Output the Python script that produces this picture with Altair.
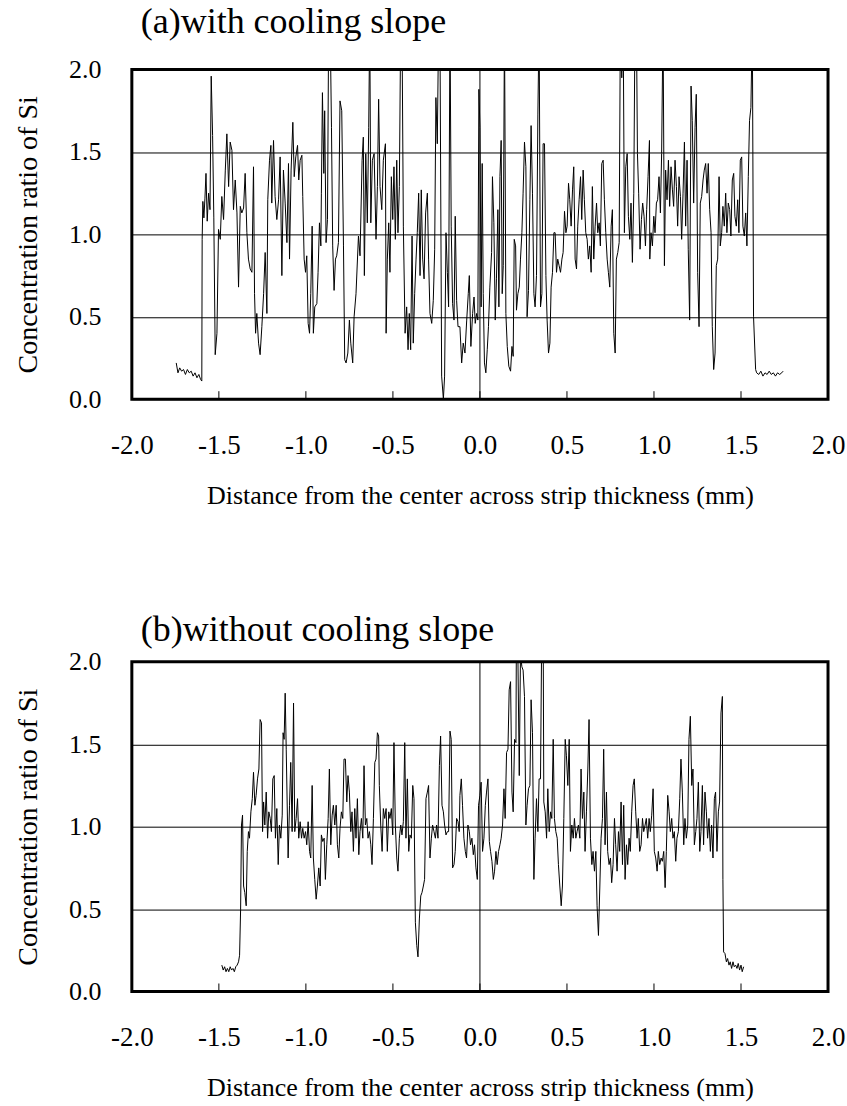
import altair as alt
import pandas as pd

# ---------------- Panel (a): with cooling slope ----------------
A_X = [
    -1.745, -1.735, -1.725, -1.714, -1.703, -1.692, -1.681, -1.670, -1.659, -1.648, -1.637, -1.626, -1.615, -1.605, -1.598,
    -1.596, -1.592, -1.586, -1.580, -1.574, -1.567, -1.559, -1.551, -1.544, -1.536, -1.529, -1.521, -1.511, -1.502, -1.492,
    -1.483, -1.473, -1.463, -1.454, -1.444, -1.435, -1.425, -1.416, -1.406, -1.396, -1.387, -1.377, -1.368, -1.358, -1.349,
    -1.339, -1.330, -1.320, -1.310, -1.301, -1.295, -1.289, -1.282, -1.272, -1.263, -1.253, -1.243, -1.234, -1.224, -1.219,
    -1.209, -1.201, -1.196, -1.186, -1.177, -1.167, -1.157, -1.148, -1.138, -1.129, -1.119, -1.109, -1.100, -1.094,
    -1.085, -1.075, -1.067, -1.058, -1.048, -1.041, -1.033, -1.023, -1.018, -1.010, -1.002, -0.995, -0.987, -0.979, -0.972,
    -0.964, -0.957, -0.949, -0.937, -0.930, -0.922, -0.914, -0.911, -0.905, -0.897, -0.892, -0.884, -0.876, -0.869, -0.861,
    -0.853, -0.846, -0.838, -0.830, -0.823, -0.813, -0.804, -0.794, -0.784, -0.777, -0.769, -0.759, -0.750, -0.742, -0.731,
    -0.723, -0.712, -0.698, -0.689, -0.677, -0.670, -0.664, -0.656, -0.647, -0.639, -0.633, -0.627, -0.618, -0.608, -0.597,
    -0.589, -0.582, -0.574, -0.564, -0.555, -0.543, -0.539, -0.532, -0.524, -0.517, -0.509, -0.501, -0.494, -0.486, -0.478,
    -0.471, -0.463, -0.455, -0.448, -0.440, -0.430, -0.421, -0.413, -0.406, -0.398, -0.390, -0.383, -0.375, -0.367, -0.360,
    -0.352, -0.344, -0.337, -0.329, -0.321, -0.312, -0.302, -0.295, -0.287, -0.277, -0.268, -0.260, -0.253, -0.245, -0.237,
    -0.230, -0.220, -0.210, -0.203, -0.195, -0.187, -0.180, -0.172, -0.165, -0.157, -0.149, -0.142, -0.134, -0.126,
    -0.115, -0.105, -0.096, -0.086, -0.076, -0.067, -0.061, -0.052, -0.042, -0.034, -0.027, -0.019, -0.012, -0.006, 0.000,
    0.007, 0.013, 0.019, 0.026, 0.034, 0.042, 0.049, 0.057, 0.067, 0.072, 0.080, 0.088, 0.095, 0.103, 0.109,
    0.115, 0.122, 0.128, 0.134, 0.141, 0.149, 0.157, 0.166, 0.176, 0.184, 0.191, 0.197, 0.205, 0.210, 0.218,
    0.226, 0.233, 0.241, 0.248, 0.256, 0.264, 0.271, 0.279, 0.287, 0.294, 0.302, 0.310, 0.317, 0.325, 0.333,
    0.340, 0.348, 0.356, 0.363, 0.371, 0.379, 0.386, 0.394, 0.402, 0.409, 0.417, 0.425, 0.432, 0.440, 0.447,
    0.455, 0.463, 0.471, 0.478, 0.486, 0.494, 0.501, 0.509, 0.516, 0.524, 0.532, 0.539, 0.547, 0.555, 0.562,
    0.570, 0.578, 0.585, 0.593, 0.600, 0.608, 0.616, 0.623, 0.631, 0.639, 0.646, 0.654, 0.662, 0.670, 0.677,
    0.685, 0.692, 0.700, 0.708, 0.715, 0.723, 0.731, 0.738, 0.746, 0.754, 0.761, 0.769, 0.777, 0.784, 0.792,
    0.800, 0.807, 0.815, 0.823, 0.830, 0.838, 0.846, 0.853, 0.861, 0.868, 0.876, 0.884, 0.891, 0.899, 0.905,
    0.912, 0.920, 0.928, 0.935, 0.943, 0.951, 0.958, 0.966, 0.974,
    0.976, 0.983, 0.991, 0.999, 1.006, 1.014, 1.021, 1.029, 1.037, 1.044, 1.052, 1.060, 1.067, 1.075, 1.083,
    1.090, 1.098, 1.106, 1.113, 1.121, 1.129, 1.136, 1.144, 1.152, 1.159, 1.167, 1.175, 1.182, 1.190, 1.197,
    1.205, 1.213, 1.220, 1.228, 1.236, 1.243, 1.251, 1.259, 1.266, 1.274, 1.282, 1.289, 1.297, 1.305, 1.312,
    1.320, 1.328, 1.335, 1.343, 1.351, 1.358, 1.366, 1.374, 1.381, 1.389, 1.396, 1.404, 1.412, 1.419, 1.427,
    1.435, 1.442, 1.450, 1.458, 1.465, 1.473, 1.481, 1.488, 1.496, 1.504, 1.511, 1.519, 1.527, 1.534, 1.542,
    1.549, 1.557, 1.565, 1.572, 1.584,
    1.590, 1.602, 1.614, 1.626, 1.638, 1.650, 1.662, 1.674, 1.686, 1.698, 1.710, 1.722, 1.734, 1.742,
]
A_Y = [
    0.22, 0.16, 0.19, 0.17, 0.18, 0.15, 0.18, 0.16, 0.17, 0.14, 0.16, 0.13, 0.15, 0.12, 0.11,
    0.97, 1.20, 1.10, 1.22, 1.37, 1.08, 1.25, 1.15, 1.96, 1.60, 1.10, 0.27, 0.40, 1.03, 0.97,
    1.23, 1.09, 1.39, 1.61, 1.29, 1.56, 1.51, 1.15, 1.33, 1.13, 0.68, 1.17, 1.13, 1.16, 1.37,
    1.01, 0.85, 0.79, 0.77, 1.41, 0.64, 0.40, 0.52, 0.34, 0.27, 0.44, 0.64, 0.89, 0.52, 1.21,
    1.45, 1.54, 1.19, 1.57, 1.23, 1.09, 1.21, 1.47, 0.75, 1.39, 1.19, 0.95, 1.43, 0.85,
    1.39, 1.68, 1.35, 1.47, 1.54, 1.33, 1.45, 1.48, 1.23, 0.85, 0.77, 0.87, 0.46, 0.40, 0.64,
    1.05, 0.40, 0.56, 0.58, 0.77, 1.07, 0.93, 1.25, 1.86, 1.37, 1.75, 0.95, 1.09, 2.30, 2.30,
    1.65, 0.93, 0.66, 0.85, 0.87, 0.95, 1.81, 1.75, 0.93, 0.24, 0.22, 0.28, 0.48, 0.34, 0.22,
    0.50, 0.64, 0.99, 0.87, 1.45, 1.59, 0.75, 1.49, 1.07, 1.65, 2.30, 1.07, 1.45, 1.49, 0.97,
    1.29, 1.82, 1.29, 1.15, 1.45, 1.55, 0.40, 0.85, 1.07, 0.77, 1.35, 1.09, 1.41, 0.97, 1.45,
    1.01, 1.29, 2.30, 2.30, 1.05, 0.40, 0.56, 0.30, 0.52, 0.30, 0.99, 0.34, 0.64, 0.85, 1.01,
    1.25, 0.75, 1.27, 0.85, 0.73, 1.13, 1.25, 0.85, 0.52, 0.46, 0.60, 0.91, 1.83, 1.55, 2.30,
    2.30, 0.14, 0.00, 0.14, 1.01, 0.77, 0.56, 2.30, 1.05, 0.58, 0.48, 1.11, 0.60, 0.44,
    0.44, 0.22, 0.34, 0.28, 0.48, 0.64, 0.75, 0.32, 0.52, 0.62, 0.46, 0.52, 0.48, 1.88, 1.65,
    0.56, 1.43, 0.64, 0.22, 0.16, 0.30, 0.44, 0.68, 0.89, 1.35, 1.07, 0.48, 0.73, 1.15, 0.56,
    1.35, 1.57, 0.64, 0.81, 2.30, 0.52, 0.32, 0.20, 0.17, 0.32, 0.26, 0.97, 0.93, 0.54, 0.64,
    0.68, 0.85, 1.01, 1.25, 1.56, 1.41, 0.50, 0.66, 1.21, 1.66, 1.25, 0.64, 0.56, 0.75, 1.73,
    2.30, 0.56, 0.64, 1.55, 1.55, 0.75, 0.48, 0.28, 0.34, 0.68, 0.77, 1.01, 1.01, 0.77, 0.85,
    0.81, 0.77, 0.85, 0.89, 1.14, 1.01, 1.05, 1.31, 1.21, 1.05, 1.27, 1.41, 0.85, 0.79, 1.05,
    1.21, 1.35, 1.09, 1.39, 1.21, 1.01, 0.97, 0.85, 0.93, 0.77, 1.29, 0.85, 1.05, 1.19, 1.01,
    1.07, 0.93, 1.43, 1.45, 1.21, 1.01, 0.85, 0.77, 0.68, 1.05, 1.15, 0.40, 0.28, 0.85, 0.89,
    0.95, 2.30, 1.95, 2.30, 1.01, 1.41, 1.49, 1.11, 0.97, 1.19, 0.83, 1.25, 2.30, 2.30, 1.49,
    1.25, 0.91, 1.09, 1.19, 1.11, 0.93, 1.15, 1.35, 1.57,
    0.85, 1.01, 0.93, 1.11, 1.01, 1.19, 1.21, 1.35, 1.13, 1.49, 2.30, 0.81, 1.39, 1.21, 1.45,
    1.17, 1.41, 1.27, 1.17, 1.45, 1.29, 1.05, 1.35, 1.23, 0.97, 1.25, 1.56, 1.05, 1.45, 0.91,
    0.48, 1.90, 1.69, 1.19, 1.65, 1.85, 0.77, 0.44, 1.19, 1.23, 1.33, 1.39, 1.43, 1.25, 1.43,
    1.15, 1.01, 0.44, 0.18, 0.28, 0.81, 0.85, 1.35, 0.93, 1.01, 1.17, 1.05, 1.25, 1.01, 1.19,
    1.15, 0.99, 1.33, 1.37, 1.11, 1.05, 1.21, 1.01, 1.45, 1.47, 1.05, 0.99, 1.13, 0.93, 1.35,
    1.69, 1.77, 2.30, 0.50, 0.18,
    0.16, 0.15, 0.17, 0.14, 0.16, 0.15, 0.17, 0.15, 0.16, 0.14, 0.16, 0.15, 0.16, 0.17,
]

# ---------------- Panel (b): without cooling slope ----------------
B_X = [
    -1.483, -1.475, -1.467, -1.459, -1.451, -1.443, -1.435, -1.427, -1.419, -1.411, -1.403, -1.395, -1.387, -1.381,
    -1.375, -1.370, -1.364, -1.358, -1.351, -1.343, -1.337, -1.330, -1.324, -1.316, -1.308, -1.301, -1.293, -1.286, -1.278,
    -1.270, -1.263, -1.255, -1.249, -1.243, -1.236, -1.228, -1.220, -1.213, -1.205, -1.198, -1.190, -1.182, -1.175, -1.167,
    -1.159, -1.152, -1.144, -1.136, -1.131, -1.125, -1.119, -1.113,
    -1.102, -1.094, -1.087, -1.079, -1.071, -1.064, -1.056, -1.048, -1.041, -1.033, -1.025, -1.018, -1.010, -1.002, -0.995,
    -0.987, -0.979, -0.972, -0.964, -0.957, -0.949, -0.941, -0.934, -0.926, -0.918, -0.911, -0.903, -0.895, -0.888, -0.880,
    -0.872, -0.865, -0.857, -0.849, -0.842, -0.834, -0.826, -0.819, -0.811, -0.804, -0.796, -0.788, -0.781, -0.773, -0.765,
    -0.758, -0.750, -0.742, -0.735, -0.727, -0.719, -0.712, -0.704, -0.696, -0.689, -0.681, -0.673, -0.666, -0.658, -0.650,
    -0.643, -0.635, -0.627, -0.620, -0.612, -0.604, -0.597, -0.589, -0.582, -0.578, -0.570, -0.562, -0.555, -0.547, -0.539,
    -0.532, -0.524, -0.517, -0.509, -0.501, -0.494, -0.486, -0.478, -0.471, -0.463, -0.455, -0.448, -0.440, -0.432, -0.425,
    -0.417, -0.409, -0.402, -0.394, -0.386, -0.379, -0.371, -0.363, -0.356, -0.348, -0.340, -0.333, -0.325, -0.318, -0.310,
    -0.302, -0.295, -0.287, -0.279, -0.272, -0.264, -0.256, -0.249, -0.241, -0.233, -0.226, -0.218, -0.210, -0.203, -0.195,
    -0.187, -0.180, -0.172, -0.165, -0.157, -0.149, -0.142, -0.134, -0.126, -0.119,
    -0.115, -0.107, -0.100, -0.092, -0.084, -0.077, -0.069, -0.061, -0.054, -0.046, -0.038, -0.031, -0.023, -0.015, -0.008,
    0.000, 0.007, 0.015, 0.023, 0.031, 0.038, 0.046, 0.054, 0.061, 0.069, 0.077, 0.084, 0.092, 0.099, 0.107,
    0.115, 0.122, 0.130, 0.138, 0.145, 0.153, 0.161, 0.168, 0.176, 0.184, 0.191, 0.199, 0.207, 0.210, 0.218,
    0.226, 0.233, 0.241, 0.248, 0.256, 0.264, 0.271, 0.279, 0.287, 0.294, 0.302, 0.310, 0.317, 0.325, 0.333,
    0.340, 0.348, 0.356, 0.363, 0.367, 0.375, 0.383, 0.390, 0.398, 0.406, 0.413, 0.421, 0.428, 0.436, 0.444,
    0.451, 0.459, 0.467, 0.474, 0.482, 0.490, 0.497, 0.505, 0.513, 0.520, 0.528, 0.536, 0.543, 0.551, 0.558,
    0.566, 0.574, 0.581, 0.589, 0.597, 0.604, 0.612, 0.620, 0.627, 0.635, 0.643, 0.650, 0.658, 0.666, 0.673,
    0.681, 0.689, 0.696, 0.704, 0.711, 0.719, 0.727, 0.734, 0.742, 0.750, 0.757, 0.765, 0.773, 0.780, 0.788,
    0.796, 0.803, 0.811, 0.819, 0.826, 0.834, 0.842, 0.849, 0.857, 0.864, 0.872, 0.880, 0.887, 0.895, 0.903,
    0.910, 0.918,
    0.926, 0.934, 0.941, 0.949, 0.956, 0.964, 0.972, 0.979, 0.987, 0.995, 1.002, 1.010, 1.018, 1.025, 1.033,
    1.041, 1.048, 1.056, 1.064, 1.071, 1.079, 1.087, 1.094, 1.102, 1.109, 1.117, 1.125, 1.132, 1.140, 1.148,
    1.155, 1.163, 1.171, 1.178, 1.186, 1.194, 1.201, 1.209, 1.217, 1.224, 1.232, 1.240, 1.247, 1.255, 1.263,
    1.270, 1.278, 1.285, 1.293, 1.301, 1.308, 1.316, 1.324, 1.331, 1.339, 1.347, 1.354, 1.362, 1.370, 1.377,
    1.385, 1.393, 1.396, 1.400,
    1.408, 1.416, 1.423, 1.431, 1.438, 1.446, 1.454, 1.461, 1.469, 1.477, 1.484, 1.492, 1.500, 1.507, 1.515,
]
B_Y = [
    0.16, 0.13, 0.15, 0.12, 0.14, 0.12, 0.15, 0.13, 0.14, 0.12, 0.15, 0.16, 0.18, 0.22,
    0.50, 1.01, 1.07, 0.64, 0.60, 0.52, 0.85, 0.97, 0.93, 1.09, 1.17, 1.33, 1.13, 1.19, 1.29,
    1.35, 1.65, 1.63, 0.97, 1.15, 1.01, 1.21, 0.93, 1.09, 1.05, 0.97, 1.29, 1.31, 0.93, 1.11,
    0.77, 1.01, 0.93, 1.07, 1.57, 1.53, 1.81, 1.47,
    0.81, 1.13, 1.39, 0.97, 1.75, 0.97, 1.05, 1.17, 0.93, 1.03, 0.93, 0.99, 0.93, 0.97, 0.89,
    1.03, 0.85, 0.81, 1.25, 0.81, 0.68, 0.56, 0.64, 0.75, 0.64, 0.95, 0.91, 0.93, 0.68, 0.89,
    1.05, 1.35, 0.89, 1.07, 1.13, 1.01, 1.13, 0.89, 0.81, 0.99, 1.09, 1.05, 1.41, 1.41, 1.15,
    1.31, 1.21, 0.97, 1.09, 0.85, 1.11, 0.93, 1.17, 0.83, 0.97, 1.05, 0.93, 1.37, 1.01, 1.05,
    0.93, 0.97, 0.89, 0.77, 1.05, 1.39, 1.41, 1.57, 1.55, 1.25, 1.01, 0.85, 1.11, 1.05, 1.11,
    0.85, 1.09, 1.05, 1.11, 0.95, 1.51, 1.01, 0.81, 0.73, 0.93, 1.01, 0.95, 1.03, 1.51, 0.93,
    1.29, 0.85, 0.95, 0.93, 1.25, 1.17, 0.42, 0.28, 0.21, 0.44, 0.58, 0.60, 0.64, 0.68, 1.17,
    1.21, 1.25, 0.81, 0.93, 1.01, 0.97, 0.93, 1.01, 0.93, 1.37, 1.55, 1.13, 1.09, 1.01, 0.95,
    0.97, 0.97, 1.58, 1.53, 0.75, 0.77, 0.85, 1.05, 1.03, 0.97,
    1.19, 1.29, 1.13, 0.93, 0.85, 0.81, 1.01, 0.97, 0.89, 0.93, 0.83, 0.89, 0.75, 0.68, 1.13,
    1.19, 1.27, 0.85, 0.93, 1.13, 1.21, 1.29, 0.91, 0.85, 0.79, 0.68, 0.73, 0.85, 0.77, 0.85,
    0.89, 0.93, 1.01, 1.23, 1.05, 1.45, 1.47, 1.83, 1.88, 1.21, 1.09, 1.53, 1.51, 2.30, 2.05,
    1.31, 2.05, 1.97, 1.95, 1.79, 1.01, 1.13, 1.23, 1.25, 1.77, 1.57, 0.68, 0.93, 1.17, 0.97,
    1.29, 1.29, 2.30, 2.30, 1.15, 1.09, 0.93, 1.23, 0.97, 1.09, 1.05, 1.53, 1.05, 0.97, 0.93,
    0.77, 0.64, 0.52, 0.64, 1.05, 1.53, 1.43, 1.25, 1.53, 0.85, 1.01, 0.93, 1.05, 0.93, 0.97,
    1.01, 0.93, 1.35, 1.05, 1.21, 0.85, 1.09, 1.35, 1.65, 0.93, 0.77, 0.85, 0.73, 0.85, 0.52,
    0.34, 0.64, 0.93, 1.05, 1.47, 0.89, 1.21, 0.85, 0.77, 0.81, 0.66, 0.77, 1.05, 0.89, 0.73,
    0.97, 0.85, 1.15, 0.77, 1.13, 0.68, 0.89, 0.77, 0.93, 0.85, 1.09, 1.25, 1.29, 1.09, 0.93,
    1.05, 0.85,
    0.89, 1.05, 0.97, 1.01, 1.05, 0.93, 1.05, 0.97, 1.07, 1.23, 0.85, 0.81, 0.73, 0.85, 0.77,
    0.81, 0.79, 0.85, 0.63, 0.85, 1.19, 1.09, 0.97, 1.05, 0.93, 0.97, 0.79, 0.93, 0.97, 1.17,
    1.41, 1.21, 0.89, 1.05, 0.93, 1.01, 1.53, 1.67, 1.25, 1.35, 0.89, 0.97, 1.05, 1.27, 0.85,
    0.97, 1.25, 0.89, 1.21, 1.09, 0.93, 1.05, 0.85, 1.01, 0.81, 1.17, 1.21, 0.85, 1.09, 1.15,
    1.69, 1.79, 0.68, 0.24,
    0.23, 0.18, 0.20, 0.16, 0.18, 0.14, 0.18, 0.15, 0.16, 0.14, 0.17, 0.13, 0.16, 0.12, 0.15,
]

X_TICKS = [-2.0, -1.5, -1.0, -0.5, 0.0, 0.5, 1.0, 1.5, 2.0]
INNER_TICKS = [-1.5, -1.0, -0.5, 0.0, 0.5, 1.0, 1.5]
Y_TICKS = [0.0, 0.5, 1.0, 1.5, 2.0]

TITLE_A = "(a)with cooling slope"
TITLE_B = "(b)without cooling slope"
X_TITLE = "Distance from the center across strip thickness (mm)"
Y_TITLE = "Concentration ratio of Si"

FONT = "Liberation Serif"
W, H = 697, 330

xscale = alt.Scale(domain=[-2, 2], nice=False, zero=False)
yscale = alt.Scale(domain=[0, 2], nice=False, zero=False)

HYPHEN_EXPR = "replace(datum.label, '\u2212', '-')"

XAXIS = alt.Axis(values=X_TICKS, format=".1f", labelExpr=HYPHEN_EXPR, title=X_TITLE,
                 grid=False, ticks=False, domain=False, labelPadding=33,
                 labelFont=FONT, labelFontSize=27, labelColor="black",
                 titleFont=FONT, titleFontSize=26, titleFontWeight="normal",
                 titleColor="black", titlePadding=24, labelFlush=False)
YAXIS = alt.Axis(values=Y_TICKS, format=".1f", title=Y_TITLE, grid=True,
                 gridColor="black", gridWidth=1, gridOpacity=1,
                 ticks=False, domain=False, labelPadding=31,
                 labelFont=FONT, labelFontSize=26, labelColor="black",
                 titleFont=FONT, titleFontSize=28, titleFontWeight="normal",
                 titleColor="black", titlePadding=26, labelFlush=False)


def xenc():
    return alt.X("x:Q", scale=xscale, axis=XAXIS)


def panel(xs, ys, title, title_gap):
    df = pd.DataFrame({"x": xs, "y": ys})
    line = alt.Chart(df).mark_line(color="black", strokeWidth=1, clip=True).encode(
        x=xenc(),
        y=alt.Y("y:Q", scale=yscale, axis=YAXIS),
        order="x:Q",
    )
    zero_line = alt.Chart(pd.DataFrame({"x": [0.0]})).mark_rule(
        color="black", strokeWidth=1).encode(
        x=xenc(), y=alt.value(0), y2=alt.value(H))
    ticks = alt.Chart(pd.DataFrame({"x": INNER_TICKS})).mark_rule(
        color="black", strokeWidth=1).encode(
        x=xenc(), y=alt.value(H), y2=alt.value(H - 8))
    ttl = alt.Chart(pd.DataFrame({"t": [title]})).mark_text(
        align="left", baseline="alphabetic", font=FONT, fontSize=36,
        color="black").encode(
        text="t:N", x=alt.value(9), y=alt.value(-title_gap))
    return alt.layer(line, zero_line, ticks, ttl).properties(width=W, height=H)


chart = alt.vconcat(
    panel(A_X, A_Y, TITLE_A, 37),
    panel(B_X, B_Y, TITLE_B, 21),
    spacing=100,
).properties(
    padding={"left": 13, "top": 1, "right": 0, "bottom": 5},
    background="white",
).configure(font=FONT).configure_view(stroke="black", strokeWidth=3)

chart.save("out.html", embed_options={"renderer": "svg", "actions": False})
